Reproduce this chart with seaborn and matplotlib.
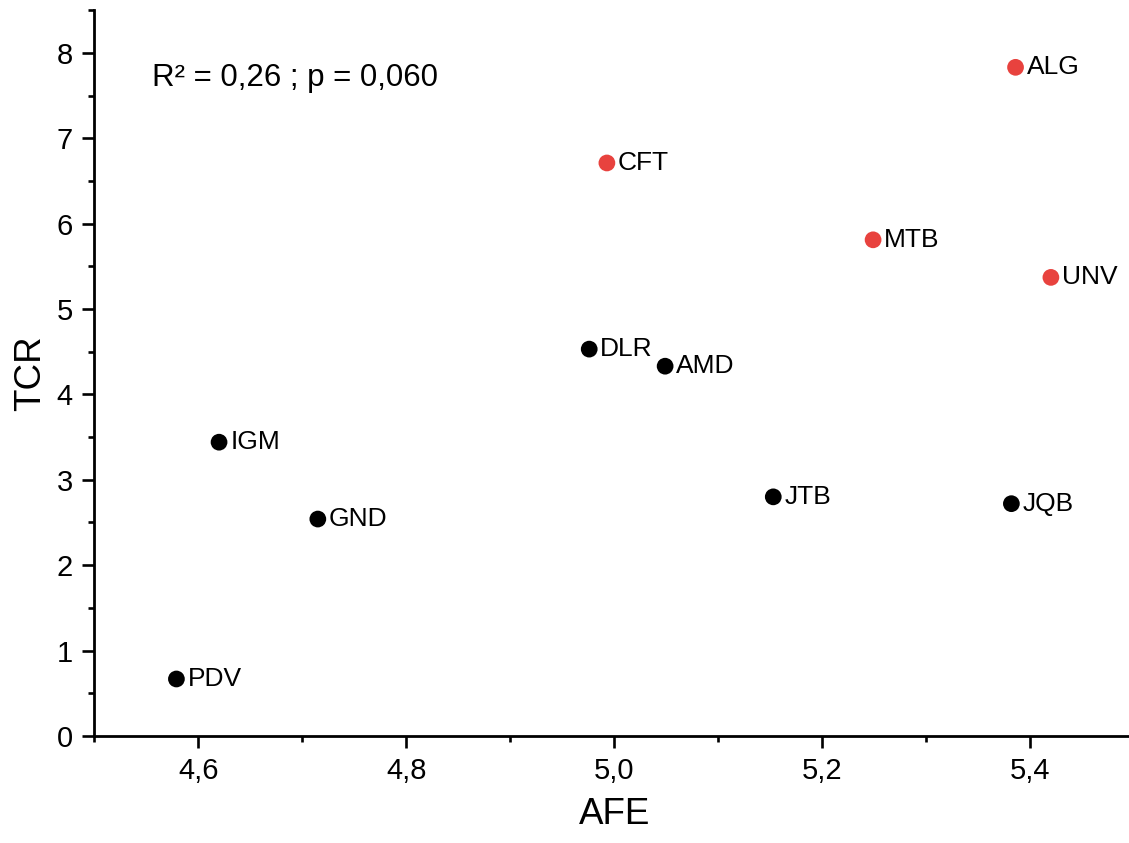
import matplotlib
matplotlib.use("Agg")
import matplotlib.pyplot as plt
import seaborn as sns
import pandas as pd
from matplotlib.ticker import MultipleLocator, FuncFormatter

labels = ["PDV", "IGM", "GND", "DLR", "AMD", "JTB", "JQB", "CFT", "MTB", "UNV", "ALG"]
afe = [4.579, 4.620, 4.715, 4.976, 5.049, 5.153, 5.382, 4.993, 5.249, 5.420, 5.386]
tcr = [0.667, 3.44, 2.54, 4.53, 4.33, 2.80, 2.72, 6.71, 5.81, 5.37, 7.83]
group = ["low"] * 7 + ["high"] * 4
palette = {"low": "#000000", "high": "#E8423E"}

df = pd.DataFrame({"AFE": afe, "TCR": tcr, "label": labels, "group": group})

sns.set_style("ticks")
plt.rcParams["font.family"] = ["Liberation Sans", "DejaVu Sans"]
plt.rcParams["text.color"] = "black"
plt.rcParams["axes.labelcolor"] = "black"
plt.rcParams["xtick.color"] = "black"
plt.rcParams["ytick.color"] = "black"
plt.rcParams["axes.edgecolor"] = "black"

fig = plt.figure(figsize=(11.29, 8.43), dpi=100)
ax = fig.add_axes([0.0835, 0.127, 0.921, 0.861])

sns.scatterplot(data=df, x="AFE", y="TCR", hue="group", palette=palette,
                s=145, edgecolor="none", legend=False, ax=ax, zorder=3, clip_on=False)
for x, y, t in zip(afe, tcr, labels):
    ax.annotate(t, (x, y), xytext=(8, 0), textcoords="offset points",
                ha="left", va="center", fontsize=19)

ax.set_xlim(4.5, 5.5)
ax.set_ylim(0, 8.5)
ax.xaxis.set_major_locator(MultipleLocator(0.2))
ax.xaxis.set_minor_locator(MultipleLocator(0.1))
ax.yaxis.set_major_locator(MultipleLocator(1))
ax.yaxis.set_minor_locator(MultipleLocator(0.5))
ax.xaxis.set_major_formatter(FuncFormatter(lambda v, p: f"{v:.1f}".replace(".", ",")))
ax.set_xticks([4.6, 4.8, 5.0, 5.2, 5.4])

ax.tick_params(axis="both", which="major", direction="out", length=8.5, width=1.9, labelsize=21, pad=7)
ax.tick_params(axis="both", which="minor", direction="out", length=4, width=1.9)
for s in ["top", "right"]:
    ax.spines[s].set_visible(False)
for s in ["left", "bottom"]:
    ax.spines[s].set_linewidth(2)

ax.set_xlabel("AFE", fontsize=26.5, labelpad=8)
ax.set_ylabel("TCR", fontsize=26.5, labelpad=6)

ax.text(4.5555, 7.7, "R² = 0,26 ; p = 0,060", fontsize=22.5, ha="left", va="center")

fig.savefig("out.png", dpi=100)
